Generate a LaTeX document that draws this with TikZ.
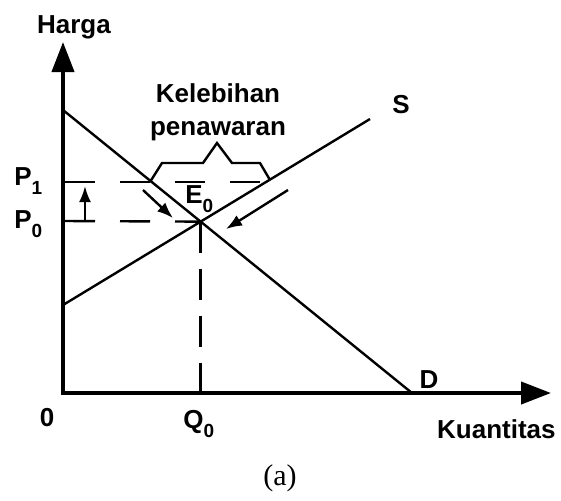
\documentclass[tikz,border=0pt]{standalone}
\usepackage{fontspec}
\setmainfont{Liberation Sans}
\newfontfamily\serifa{Liberation Serif}
\usetikzlibrary{arrows.meta}
\newcommand\lowsub[1]{\raisebox{-4.5pt}{\fontsize{9.5}{10}\selectfont #1}}
\begin{document}
\begin{tikzpicture}[x=0.5pt,y=-0.5pt,
  axis/.style={line width=2pt,{Triangle[length=15pt,width=11pt]}-{Triangle[length=15pt,width=11pt]}},
  curve/.style={line width=1.2pt},
  dashh/.style={line width=1.2pt,dash pattern=on 15pt off 12.5pt},
  dashv/.style={line width=1.2pt,dash pattern=on 15.5pt off 8pt},
  move/.style={line width=1.2pt,-{Latex[length=8pt,width=6pt]}},
  lbl/.style={font=\fontsize{13}{16}\selectfont\bfseries,inner sep=0pt}]
\useasboundingbox (0,0) rectangle (561,500);
\fill[white] (0,0) rectangle (561,500);
% axes
\coordinate (O) at (63,393);
\coordinate (Ytop) at (63,42);
\coordinate (Xend) at (551,393);
\draw[axis] (Ytop) -- (O) -- (Xend);
% demand and supply
\coordinate (Dstart) at (63,110);
\coordinate (Dend) at (412,393);
\coordinate (Sstart) at (63,305);
\coordinate (Send) at (370,119);
\draw[curve] (Dstart) -- (Dend);
\draw[curve] (Sstart) -- (Send);
\coordinate (E) at (intersection of Dstart--Dend and Sstart--Send);
\coordinate (Q) at (E |- O);
% dashed lines
\coordinate (P1a) at (65,182);
\coordinate (P1b) at (270,182);
\coordinate (P0a) at (65,221);
\draw[dashh] (P1a) -- (P1b);
\draw[dashh] (P0a) -- (E);
\draw[dashv] (E) -- (Q);
% brace
\draw[curve,line join=miter] (150,182) -- (162,163) -- (203,163) -- (217,143) -- (232,163) -- (260,163) -- (270,180);
% movement arrows
\coordinate (a1s) at (143,190);
\coordinate (a1e) at (173,218);
\coordinate (a2s) at (288,190);
\coordinate (a2e) at (226,229);
\coordinate (a3s) at (85,220);
\coordinate (a3e) at (85,186);
\draw[move] (a1s) -- (a1e);
\draw[move] (a2s) -- (a2e);
\draw[move] (a3s) -- (a3e);
% labels
\node[lbl,anchor=base] (harga) at (74,33) {Harga};
\node[lbl,anchor=base] (keleb) at (218,102) {Kelebihan};
\node[lbl,anchor=base] (penaw) at (218,135) {penawaran};
\node[lbl,anchor=base] (slbl) at (401,113) {S};
\node[lbl,anchor=base] (dlbl) at (429,388) {D};
\node[lbl,anchor=base west] (p1lbl) at (14,185) {P\lowsub{1}};
\node[lbl,anchor=base west] (p0lbl) at (14,228) {P\lowsub{0}};
\node[lbl,anchor=base west] (elbl) at (185,203) {E\lowsub{0}};
\node[lbl,anchor=base] (zero) at (47,426) {0};
\node[lbl,anchor=base west] (qlbl) at (183,428) {Q\lowsub{0}};
\node[lbl,anchor=base east] (kuant) at (556,438) {Kuantitas};
\node[font=\serifa\fontsize{15}{18}\selectfont,inner sep=0pt,anchor=base] (cap) at (280,485) {(a)};
\end{tikzpicture}
\end{document}
